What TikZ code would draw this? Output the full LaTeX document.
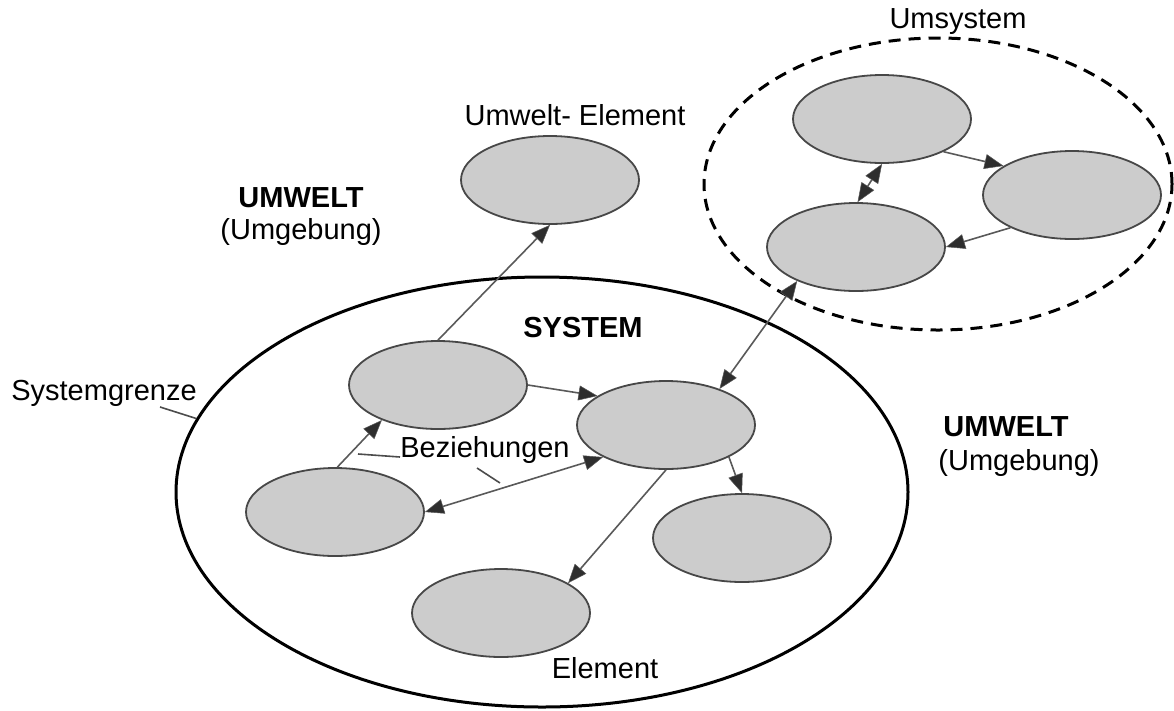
\documentclass[tikz,border=0pt]{standalone}
\usepackage{fontspec}
\setmainfont{Liberation Sans}
\usetikzlibrary{shapes.geometric,arrows.meta}
\begin{document}
\begin{tikzpicture}[x=1pt,y=-1pt,
  elem/.style={ellipse,draw=black!72,fill=black!20,line width=1.8pt,minimum width=178pt,minimum height=88pt,inner sep=0pt},
  tip/.tip={Triangle[length=19pt,width=15pt,fill=black!82,line width=0.5pt]},
  rel/.style={draw=black!65,line width=1.6pt,-tip},
  birel/.style={draw=black!65,line width=1.6pt,tip-tip},
  lbl/.style={inner sep=0pt,font=\fontsize{29}{34}\selectfont},
  blbl/.style={inner sep=0pt,font=\fontsize{29}{34}\selectfont\bfseries},
  ptr/.style={draw=black!70,line width=1.6pt}]
\useasboundingbox (0,0) rectangle (1174,710);
% boundaries
\node[ellipse,draw=black,line width=3pt,minimum width=732pt,minimum height=430pt,inner sep=0pt] (sys) at (542,492) {};
\node[ellipse,draw=black,line width=3pt,dash pattern=on 12pt off 8pt,minimum width=468pt,minimum height=292pt,inner sep=0pt] (ums) at (938,184) {};
% elements
\node[elem] (ue) at (550,180) {};
\node[elem] (A) at (438,385) {};
\node[elem] (B) at (666,425) {};
\node[elem] (C) at (335,512) {};
\node[elem] (D) at (742,538) {};
\node[elem] (E) at (501,613) {};
\node[elem] (U1) at (882,119) {};
\node[elem] (U2) at (1072,195) {};
\node[elem] (U3) at (856,247) {};
% relations
\draw[rel] (A.north) -- (ue.south);
\draw[rel] (A.east) -- (B.157);
\draw[rel] (C.87) -- (A.212);
\draw[birel] (C.east) -- (B.207);
\draw[rel] (B.-27) -- (D.north);
\draw[rel] (B.south) -- (E.24);
\draw[birel] (B.34) -- (U3.210);
\draw[rel] (U1.-28) -- (U2.157);
\draw[rel] (U2.208) -- (U3.east);
\draw[birel] (U1.south) -- (U3.88);
% labels
\node[lbl] (umsys) at (958,22) {Umsystem};
\node[lbl] (uelbl) at (575,115) {Umwelt- Element};
\node[blbl] (umw1) at (301,198) {UMWELT};
\node[lbl] (umg1) at (301,232) {(Umgebung)};
\node[blbl] (umw2) at (1006,427) {UMWELT};
\node[lbl] (umg2) at (1019,463) {(Umgebung)};
\node[blbl] (syslbl) at (583,328) {SYSTEM};
\node[lbl] (bez) at (485,450) {Beziehungen};
\node[lbl] (sg) at (104,393) {Systemgrenze};
\node[lbl] (ellbl) at (605,668) {Element};
% pointers
\coordinate (sgp) at (160,407);
\draw[ptr] (sgp) -- (sys.168);
\coordinate (bz1a) at (358,454);
\coordinate (bz1b) at (400,457);
\coordinate (bz2a) at (477,468);
\coordinate (bz2b) at (500,483);
\draw[ptr] (bz1a) -- (bz1b);
\draw[ptr] (bz2a) -- (bz2b);
\end{tikzpicture}
\end{document}
